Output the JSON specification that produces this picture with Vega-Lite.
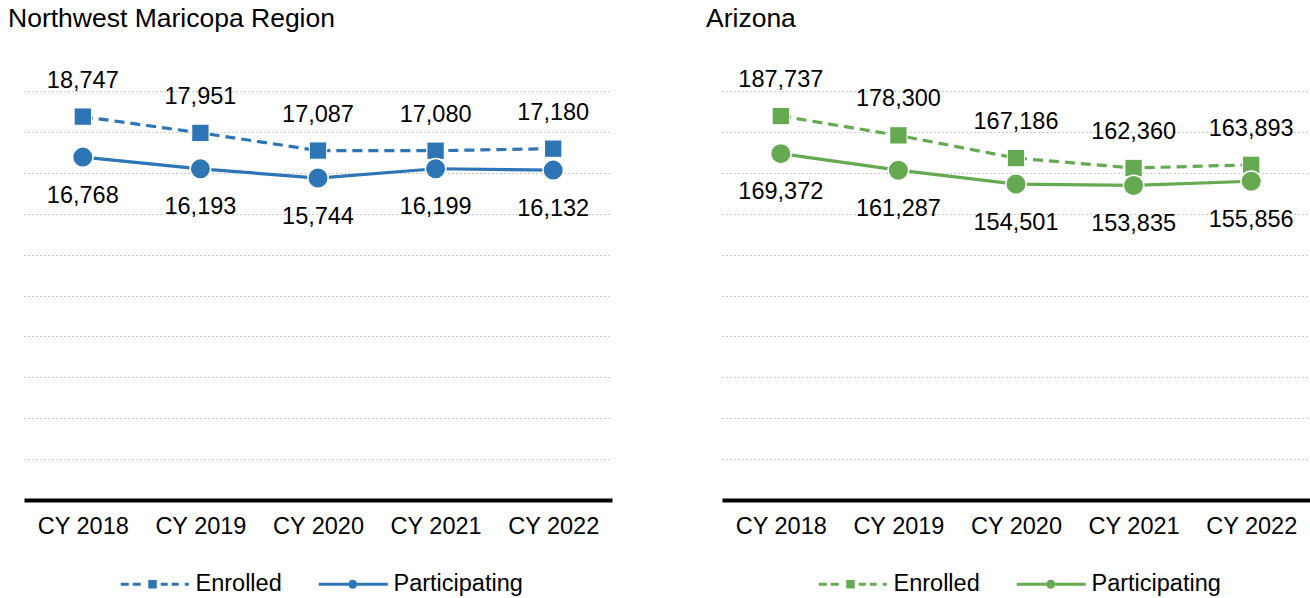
{
  "$schema": "https://vega.github.io/schema/vega-lite/v6.json",
  "background": "white",
  "padding": {"left": 8, "top": 5, "right": 0, "bottom": 0},
  "spacing": 94,
  "config": {
    "view": {"stroke": null},
    "font": "Liberation Sans",
    "legend": {"layout": {"bottom": {"anchor": "middle"}}}
  },
  "resolve": {"scale": {"shape": "independent"}, "legend": {"shape": "independent"}},
  "hconcat": [
    {
      "width": 588,
      "height": 409,
      "title": {"text": "Northwest Maricopa Region", "anchor": "start", "dx": -16, "fontSize": 26.5, "font": "Liberation Sans", "fontWeight": "normal", "color": "black", "baseline": "alphabetic", "offset": 15},
      "data": {"values": [
        {"year": "CY 2018", "series": "Enrolled", "value": 18747},
        {"year": "CY 2019", "series": "Enrolled", "value": 17951},
        {"year": "CY 2020", "series": "Enrolled", "value": 17087},
        {"year": "CY 2021", "series": "Enrolled", "value": 17080},
        {"year": "CY 2022", "series": "Enrolled", "value": 17180},
        {"year": "CY 2018", "series": "Participating", "value": 16768},
        {"year": "CY 2019", "series": "Participating", "value": 16193},
        {"year": "CY 2020", "series": "Participating", "value": 15744},
        {"year": "CY 2021", "series": "Participating", "value": 16199},
        {"year": "CY 2022", "series": "Participating", "value": 16132}
      ]},
      "encoding": {
        "x": {"field": "year", "type": "ordinal", "scale": {"type": "point", "padding": 0.5},
          "axis": {"title": null, "labelAngle": 0, "ticks": false, "domainColor": "black", "domainWidth": 4, "labelFontSize": 23.5, "labelFont": "Liberation Sans", "labelColor": "black", "labelPadding": 14, "grid": false}},
        "y": {"field": "value", "type": "quantitative", "scale": {"domain": [0, 20000], "nice": false, "zero": true},
          "axis": {"title": null, "labels": false, "ticks": false, "domain": false, "grid": true, "values": [2000, 4000, 6000, 8000, 10000, 12000, 14000, 16000, 18000, 20000], "gridColor": "#bdbdbd", "gridDash": [1.5, 2.5], "gridWidth": 1.2}}
      },
      "layer": [
        {
          "transform": [{"filter": "datum.series == 'Enrolled'"}],
          "mark": {"type": "line", "color": "#2E75B6", "strokeWidth": 3.2, "strokeDash": [10, 6]}
        },
        {
          "transform": [{"filter": "datum.series == 'Participating'"}],
          "mark": {"type": "line", "color": "#2E75B6", "strokeWidth": 3.2}
        },
        {
          "transform": [{"filter": "datum.series == 'Enrolled'"}],
          "mark": {"type": "point", "shape": "square", "filled": true, "fill": "#2E75B6", "stroke": "white", "strokeWidth": 1, "size": 300, "opacity": 1}
        },
        {
          "transform": [{"filter": "datum.series == 'Participating'"}],
          "mark": {"type": "point", "shape": "circle", "filled": true, "fill": "#2E75B6", "stroke": "white", "strokeWidth": 1.5, "size": 420, "opacity": 1}
        },
        {
          "transform": [{"filter": "datum.series == 'Enrolled'"}],
          "mark": {"type": "text", "dy": -36, "fontSize": 23.5, "font": "Liberation Sans", "color": "black", "baseline": "middle"},
          "encoding": {"text": {"field": "value", "type": "quantitative", "format": ","}}
        },
        {
          "transform": [{"filter": "datum.series == 'Participating'"}],
          "mark": {"type": "text", "dy": 38.5, "fontSize": 23.5, "font": "Liberation Sans", "color": "black", "baseline": "middle"},
          "encoding": {"text": {"field": "value", "type": "quantitative", "format": ","}}
        },
        {
          "transform": [{"filter": "false"}],
          "mark": {"type": "point", "filled": true, "color": "#2E75B6", "opacity": 1, "strokeWidth": 0},
          "encoding": {"shape": {"field": "series", "type": "nominal",
            "scale": {"domain": ["Enrolled", "Participating"], "range": [
              "M-1,-0.3H0.6V0.3H-1Z M1.4,-0.3H3V0.3H1.4Z M4.5,-0.85H6.2V0.85H4.5Z M7,-0.3H8.4V0.3H7Z M9.2,-0.3H10.6V0.3H9.2Z M11.8,-0.3H12.6V0.3H11.8Z",
              "M-1,-0.3H4.9V0.3H-1Z M6.7,-0.3H12.8V0.3H6.7Z M4.9,0A0.9,0.9 0 1,1 6.7,0A0.9,0.9 0 1,1 4.9,0Z"
            ]},
            "legend": {"title": null, "orient": "bottom", "direction": "horizontal", "symbolSize": 100, "symbolStrokeWidth": 0, "symbolFillColor": "#2E75B6", "symbolOpacity": 1, "labelFontSize": 23.5, "labelFont": "Liberation Sans", "labelColor": "black", "labelOffset": 58, "columnPadding": 30, "offset": 34}}}
        }
      ]
    },
    {
      "width": 588,
      "height": 409,
      "title": {"text": "Arizona", "anchor": "start", "dx": -16, "fontSize": 26.5, "font": "Liberation Sans", "fontWeight": "normal", "color": "black", "baseline": "alphabetic", "offset": 15},
      "data": {"values": [
        {"year": "CY 2018", "series": "Enrolled", "value": 187737},
        {"year": "CY 2019", "series": "Enrolled", "value": 178300},
        {"year": "CY 2020", "series": "Enrolled", "value": 167186},
        {"year": "CY 2021", "series": "Enrolled", "value": 162360},
        {"year": "CY 2022", "series": "Enrolled", "value": 163893},
        {"year": "CY 2018", "series": "Participating", "value": 169372},
        {"year": "CY 2019", "series": "Participating", "value": 161287},
        {"year": "CY 2020", "series": "Participating", "value": 154501},
        {"year": "CY 2021", "series": "Participating", "value": 153835},
        {"year": "CY 2022", "series": "Participating", "value": 155856}
      ]},
      "encoding": {
        "x": {"field": "year", "type": "ordinal", "scale": {"type": "point", "padding": 0.5},
          "axis": {"title": null, "labelAngle": 0, "ticks": false, "domainColor": "black", "domainWidth": 4, "labelFontSize": 23.5, "labelFont": "Liberation Sans", "labelColor": "black", "labelPadding": 14, "grid": false}},
        "y": {"field": "value", "type": "quantitative", "scale": {"domain": [0, 200000], "nice": false, "zero": true},
          "axis": {"title": null, "labels": false, "ticks": false, "domain": false, "grid": true, "values": [20000, 40000, 60000, 80000, 100000, 120000, 140000, 160000, 180000, 200000], "gridColor": "#bdbdbd", "gridDash": [1.5, 2.5], "gridWidth": 1.2}}
      },
      "layer": [
        {
          "transform": [{"filter": "datum.series == 'Enrolled'"}],
          "mark": {"type": "line", "color": "#65AA50", "strokeWidth": 3.2, "strokeDash": [10, 6]}
        },
        {
          "transform": [{"filter": "datum.series == 'Participating'"}],
          "mark": {"type": "line", "color": "#65AA50", "strokeWidth": 3.2}
        },
        {
          "transform": [{"filter": "datum.series == 'Enrolled'"}],
          "mark": {"type": "point", "shape": "square", "filled": true, "fill": "#65AA50", "stroke": "white", "strokeWidth": 1, "size": 300, "opacity": 1}
        },
        {
          "transform": [{"filter": "datum.series == 'Participating'"}],
          "mark": {"type": "point", "shape": "circle", "filled": true, "fill": "#65AA50", "stroke": "white", "strokeWidth": 1.5, "size": 420, "opacity": 1}
        },
        {
          "transform": [{"filter": "datum.series == 'Enrolled'"}],
          "mark": {"type": "text", "dy": -36, "fontSize": 23.5, "font": "Liberation Sans", "color": "black", "baseline": "middle"},
          "encoding": {"text": {"field": "value", "type": "quantitative", "format": ","}}
        },
        {
          "transform": [{"filter": "datum.series == 'Participating'"}],
          "mark": {"type": "text", "dy": 38.5, "fontSize": 23.5, "font": "Liberation Sans", "color": "black", "baseline": "middle"},
          "encoding": {"text": {"field": "value", "type": "quantitative", "format": ","}}
        },
        {
          "transform": [{"filter": "false"}],
          "mark": {"type": "point", "filled": true, "color": "#65AA50", "opacity": 1, "strokeWidth": 0},
          "encoding": {"shape": {"field": "series", "type": "nominal",
            "scale": {"domain": ["Enrolled", "Participating"], "range": [
              "M-1,-0.3H0.6V0.3H-1Z M1.4,-0.3H3V0.3H1.4Z M4.5,-0.85H6.2V0.85H4.5Z M7,-0.3H8.4V0.3H7Z M9.2,-0.3H10.6V0.3H9.2Z M11.8,-0.3H12.6V0.3H11.8Z",
              "M-1,-0.3H4.9V0.3H-1Z M6.7,-0.3H12.8V0.3H6.7Z M4.9,0A0.9,0.9 0 1,1 6.7,0A0.9,0.9 0 1,1 4.9,0Z"
            ]},
            "legend": {"title": null, "orient": "bottom", "direction": "horizontal", "symbolSize": 100, "symbolStrokeWidth": 0, "symbolFillColor": "#65AA50", "symbolOpacity": 1, "labelFontSize": 23.5, "labelFont": "Liberation Sans", "labelColor": "black", "labelOffset": 58, "columnPadding": 30, "offset": 34}}}
        }
      ]
    }
  ]
}
